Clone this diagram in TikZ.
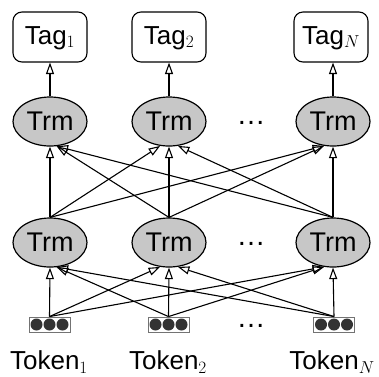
\documentclass[tikz,border=0pt]{standalone}
\usepackage{fontspec}
\setmainfont{Liberation Sans}
\usetikzlibrary{arrows.meta,shapes.geometric}

\begin{document}
\begin{tikzpicture}[x=1pt,y=-1pt,
  trm/.style={ellipse, draw, line width=1.2pt, fill=black!22,
    minimum width=74pt, minimum height=49pt, inner sep=0pt,
    font=\fontsize{27}{27}\selectfont},
  tagbox/.style={draw, rounded corners=9pt, line width=1.1pt,
    minimum width=74pt, minimum height=50pt, inner sep=0pt,
    text height=19pt, text depth=5pt,
    font=\fontsize{26}{26}\selectfont},
  tokbox/.style={draw=black!55, line width=0.9pt, fill=white,
    minimum width=41pt, minimum height=15pt, inner sep=0pt},
  toklabel/.style={anchor=base, font=\fontsize{26}{26}\selectfont},
  dotsep/.style={anchor=base, font=\fontsize{29}{29}\selectfont},
  conn/.style={line width=1.1pt,
    -{Triangle[open, length=11.5pt, width=8pt, line width=1.1pt]}},
]
\useasboundingbox (0,0) rectangle (379,376);

% output tags
\node[tagbox] (g1) at (50,37)  {Tag$_1$};
\node[tagbox] (g2) at (169,37) {Tag$_2$};
\node[tagbox] (g3) at (331,37) {Tag$_N$};

% upper transformer layer
\node[trm] (u1) at (50,121.5)  {Trm};
\node[trm] (u2) at (169,121.5) {Trm};
\node[trm] (u3) at (333,121.5) {Trm};

% lower transformer layer
\node[trm] (l1) at (50,242.5)  {Trm};
\node[trm] (l2) at (169,242.5) {Trm};
\node[trm] (l3) at (333,242.5) {Trm};

% token embeddings
\node[tokbox] (e1) at (49.5,324.5) {};
\node[tokbox] (e2) at (168.5,324.5) {};
\node[tokbox] (e3) at (334,324.5) {};
\foreach \e in {e1,e2,e3}
  \foreach \d in {-13,0,13}
    \fill[black!80] ([xshift=\d pt]\e.center) circle (6pt);

% token labels
\node[toklabel] (w1) at (49,369.5)  {Token$_1$};
\node[toklabel] (w2) at (168,369.5) {Token$_2$};
\node[toklabel] (w3) at (332,369.5) {Token$_N$};

% ellipses between columns
\node[dotsep] (d1) at (251,124) {…};
\node[dotsep] (d2) at (251,245) {…};
\node[dotsep] (d3) at (251,327.5) {…};

% upper layer to tags
\draw[conn] (u1.north) -- (u1.north |- g1.south);
\draw[conn] (u2.north) -- (u2.north |- g2.south);
\draw[conn] (u3.north) -- (u3.north |- g3.south);

% lower layer to upper layer, fully connected
\draw[conn] (l1.north) -- (u1.south);
\draw[conn] (l1.north) -- (u2.-110);
\draw[conn] (l1.north) -- (u3.-110);
\draw[conn] (l2.north) -- (u1.-75);
\draw[conn] (l2.north) -- (u2.south);
\draw[conn] (l2.north) -- (u3.-110);
\draw[conn] (l3.north) -- (u1.-75);
\draw[conn] (l3.north) -- (u2.-70);
\draw[conn] (l3.north) -- (u3.south);

% token embeddings to lower layer, fully connected
\draw[conn] (e1.north) -- (l1.south);
\draw[conn] (e1.north) -- (l2.-110);
\draw[conn] (e1.north) -- (l3.-110);
\draw[conn] (e2.north) -- (l1.-75);
\draw[conn] (e2.north) -- (l2.south);
\draw[conn] (e2.north) -- (l3.-110);
\draw[conn] (e3.north) -- (l1.-75);
\draw[conn] (e3.north) -- (l2.-70);
\draw[conn] (e3.north) -- (l3.south);
\end{tikzpicture}
\end{document}
